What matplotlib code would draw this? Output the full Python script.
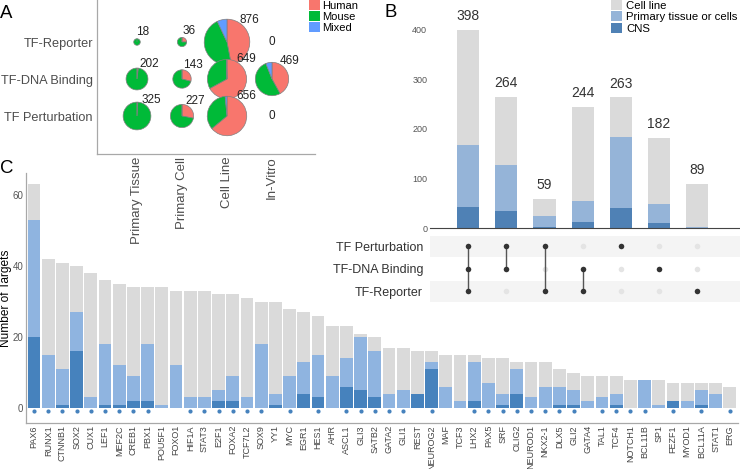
import numpy as np
import matplotlib
matplotlib.use("Agg")
import matplotlib.pyplot as plt
from matplotlib.patches import Patch

plt.rcParams['font.family'] = ['Liberation Sans', 'DejaVu Sans']

# ---------------- Panel A data ----------------
assay_types = ['TF-Reporter', 'TF-DNA Binding', 'TF Perturbation']
sample_sources = ['Primary Tissue', 'Primary Cell', 'Cell Line', 'In-Vitro']
species = ['Human', 'Mouse', 'Mixed']
species_colors = ['#f8766d', '#00ba38', '#619cff']
pie_counts = [[18, 36, 876, 0],
              [202, 143, 649, 469],
              [325, 227, 656, 0]]
human_share = [[0.0, 0.25, 0.47, 0.0],
               [0.02, 0.29, 0.67, 0.42],
               [0.01, 0.28, 0.64, 0.0]]
mixed_share = [[0.0, 0.0, 0.07, 0.0],
               [0.0, 0.0, 0.005, 0.06],
               [0.0, 0.0, 0.015, 0.0]]

# ---------------- Panel B data ----------------
upset_totals = [398, 264, 59, 244, 263, 182, 89]
upset_primary = [168, 127, 24, 55, 184, 48, 2]   # primary tissue/cells (incl. CNS), cumulative
upset_cns = [43, 35, 3, 13, 40, 11, 1]
set_names = ['TF Perturbation', 'TF-DNA Binding', 'TF-Reporter']
memberships = [[1, 1, 1], [1, 1, 0], [1, 0, 1], [0, 1, 1], [1, 0, 0], [0, 1, 0], [0, 0, 1]]
b_legend = ['Cell line', 'Primary tissue or cells', 'CNS']

# ---------------- Panel C data ----------------
tf_names = ['PAX6', 'RUNX1', 'CTNNB1', 'SOX2', 'CUX1', 'LEF1', 'MEF2C', 'CREB1', 'PBX1', 'POU5F1',
            'FOXO1', 'HIF1A', 'STAT3', 'E2F1', 'FOXA2', 'TCF7L2', 'SOX9', 'YY1', 'MYC', 'EGR1',
            'HES1', 'AHR', 'ASCL1', 'GLI3', 'SATB2', 'GATA2', 'GLI1', 'REST', 'NEUROG2', 'MAF',
            'TCF3', 'LHX2', 'PAX5', 'SRF', 'OLIG2', 'NEUROD1', 'NKX2-1', 'DLX5', 'GLI2', 'GATA4',
            'TAL1', 'TCF4', 'NOTCH1', 'BCL11B', 'SP1', 'FEZF1', 'MYOD1', 'BCL11A', 'STAT1', 'ERG']
tf_total = [63, 42, 41, 40, 38, 36, 35, 34, 34, 34,
            33, 33, 33, 32, 32, 31, 30, 30, 28, 27,
            26, 23, 23, 21, 20, 17, 17, 16, 16, 15,
            15, 15, 14, 14, 13, 13, 13, 11, 10, 9,
            9, 9, 8, 8, 8, 7, 7, 7, 7, 6]
tf_primary = [53, 15, 11, 27, 3, 18, 12, 9, 18, 1,
              12, 3, 3, 5, 9, 3, 18, 4, 9, 13,
              15, 9, 14, 20, 16, 4, 5, 4, 13, 6,
              2, 13, 7, 4, 11, 3, 6, 6, 5, 2,
              3, 4, 0, 8, 1, 2, 2, 5, 4, 0]
tf_cns = [20, 0, 1, 16, 0, 1, 1, 2, 2, 0,
          0, 0, 0, 2, 2, 0, 0, 1, 0, 4,
          3, 0, 6, 5, 3, 0, 0, 4, 11, 0,
          0, 2, 0, 1, 4, 0, 0, 1, 1, 0,
          0, 1, 0, 0, 0, 2, 0, 1, 0, 0]
tf_dot = [1, 1, 1, 1, 1, 1, 1, 1, 1, 0,
          0, 1, 1, 1, 1, 1, 1, 0, 1, 0,
          1, 0, 1, 1, 1, 1, 1, 0, 1, 0,
          0, 1, 1, 1, 1, 1, 1, 1, 1, 0,
          1, 1, 1, 1, 0, 1, 0, 1, 0, 1]

# colours
GRAY = '#dadada'
B_LIGHT, B_DARK = '#95b4d8', '#4f81b5'
C_LIGHT, C_DARK = '#8fb4e0', '#4682bd'
TXT = '#4d4d4d'

W, H = 740, 469
fig = plt.figure(figsize=(W / 100, H / 100), dpi=100)


def rect(l, t, r, b):
    return [l / W, 1 - b / H, (r - l) / W, (b - t) / H]


# ================= Panel C =================
axC = fig.add_axes(rect(26, 172.7, 738, 423))
axC.set_facecolor('none')
xc = np.arange(len(tf_names))
axC.bar(xc, tf_total, width=0.9, color=GRAY, linewidth=0)
axC.bar(xc, tf_primary, width=0.9, color=C_LIGHT, linewidth=0)
axC.bar(xc, tf_cns, width=0.9, color=C_DARK, linewidth=0)
dot_x = xc[np.array(tf_dot) == 1]
axC.scatter(dot_x, np.full(len(dot_x), -0.9), s=9, color=C_DARK, linewidths=0, zorder=3)
axC.set_xlim(-0.57, len(tf_names) - 0.42)
axC.set_ylim(-4.2, 66.3)
axC.set_yticks([0, 20, 40, 60])
axC.set_xticks(xc)
axC.set_xticklabels(tf_names, rotation=90, fontsize=6.5, color='#444444')
axC.tick_params(axis='both', length=0)
axC.tick_params(axis='x', pad=1.5)
axC.tick_params(axis='y', labelsize=7, labelcolor='#555555', pad=2)
for s in ['top', 'right']:
    axC.spines[s].set_visible(False)
for s in ['left', 'bottom']:
    axC.spines[s].set_color('#a8a8a8')
    axC.spines[s].set_linewidth(0.9)
axC.set_ylabel('Number of Targets', fontsize=8.6, color='black')
axC.yaxis.set_label_coords(-0.019, 0.5)

# ================= Panel A =================
axA = fig.add_axes(rect(97, 0, 315, 154))
axA.set_facecolor('none')
unit = 45.0
row_gap = 37.0 / unit
row_y = [-i * row_gap for i in range(len(assay_types))]
for i in range(len(assay_types)):
    for j in range(len(sample_sources)):
        n = pie_counts[i][j]
        y = row_y[i]
        if n == 0:
            axA.text(j, y, '0', ha='center', va='center', fontsize=8.5, color='#222222')
            continue
        r = 0.77 * np.sqrt(n) / unit
        h = human_share[i][j]
        m = mixed_share[i][j]
        fr = [h, 1 - h - m, m]
        axA.pie(fr, colors=species_colors, center=(j, y), radius=r, startangle=90,
                counterclock=False, frame=True,
                wedgeprops=dict(edgecolor='#808080', linewidth=0.5))
        axA.text(j + (0.85 * r * unit + 3) / unit, y + (0.6 * r * unit + 8) / unit, str(n),
                 ha='center', va='center', fontsize=8.5, color='#222222')
axA.set_aspect('equal')
axA.set_xlim(-40 / unit, 178 / unit)
axA.set_ylim(-112 / unit, 42 / unit)
axA.set_xticks(range(len(sample_sources)))
axA.set_xticklabels(sample_sources, rotation=90, fontsize=9.5, color=TXT)
axA.set_yticks(row_y)
axA.set_yticklabels(assay_types, fontsize=9.2, color=TXT)
axA.tick_params(axis='both', length=0)
axA.tick_params(axis='x', pad=2)
axA.tick_params(axis='y', pad=3)
for s in ['top', 'right']:
    axA.spines[s].set_visible(False)
for s in ['left', 'bottom']:
    axA.spines[s].set_visible(True)
    axA.spines[s].set_color('#a8a8a8')
    axA.spines[s].set_linewidth(0.9)
axA.set_frame_on(True)
axA.patch.set_visible(False)

fig.legend(handles=[Patch(facecolor=c, label=s) for c, s in zip(species_colors, species)],
           loc='upper left', bbox_to_anchor=(309 / W, 1.0), frameon=False, fontsize=8,
           handlelength=0.95, handleheight=0.95, handletextpad=0.25, labelspacing=0.05,
           borderpad=0, borderaxespad=0)

# ================= Panel B =================
axB = fig.add_axes(rect(430, 0, 740, 228.3))
xb = np.arange(len(upset_totals))
axB.bar(xb, upset_totals, width=0.58, color=GRAY, linewidth=0)
axB.bar(xb, upset_primary, width=0.58, color=B_LIGHT, linewidth=0)
axB.bar(xb, upset_cns, width=0.58, color=B_DARK, linewidth=0)
for xi, t in zip(xb, upset_totals):
    axB.annotate(str(t), (xi, t), xytext=(0, 5), textcoords='offset points',
                 ha='center', va='bottom', fontsize=10, color='#333333')
axB.set_xlim(-1.0, 7.12)
axB.set_ylim(0, 459)
axB.set_xticks([])
axB.set_yticks([0, 100, 200, 300, 400])
axB.tick_params(axis='y', length=0, labelsize=6.5, labelcolor='#555555', pad=2)
for s in ['top', 'right', 'left']:
    axB.spines[s].set_visible(False)
axB.spines['bottom'].set_color('#444444')
axB.spines['bottom'].set_linewidth(0.8)

fig.legend(handles=[Patch(facecolor=c, label=s) for c, s in zip([GRAY, B_LIGHT, B_DARK], b_legend)],
           loc='upper left', bbox_to_anchor=(611 / W, 1.0), frameon=False, fontsize=8.2,
           handlelength=0.95, handleheight=0.95, handletextpad=0.4, labelspacing=0.05,
           borderpad=0, borderaxespad=0)

# matrix
axM = fig.add_axes(rect(430, 235.2, 740, 302.7))
axM.set_xlim(-1.0, 7.12)
axM.set_ylim(len(set_names) - 0.5, -0.5)
for r in range(0, len(set_names), 2):
    axM.axhspan(r - 0.45, r + 0.45, color='#f4f4f4', zorder=0, linewidth=0)
for k, mem in enumerate(memberships):
    act = [r for r in range(len(set_names)) if mem[r]]
    ina = [r for r in range(len(set_names)) if not mem[r]]
    axM.scatter([k] * len(ina), ina, s=16, color='#e4e4e4', linewidths=0, zorder=2)
    if len(act) > 1:
        axM.plot([k, k], [min(act), max(act)], color='#555555', linewidth=1.0, zorder=2)
    axM.scatter([k] * len(act), act, s=16, color='#333333', linewidths=0, zorder=3)
axM.set_xticks([])
axM.set_yticks(range(len(set_names)))
axM.set_yticklabels(set_names, fontsize=9, color='#333333')
axM.tick_params(axis='y', length=0, pad=5)
for s in axM.spines.values():
    s.set_visible(False)

# panel letters
fig.text(0 / W, 1 - 18.3 / H, 'A', fontsize=13.4, va='baseline', ha='left')
fig.text(385 / W, 1 - 16.7 / H, 'B', fontsize=13.4, va='baseline', ha='left')
fig.text(0 / W, 1 - 173.3 / H, 'C', fontsize=13.4, va='baseline', ha='left')

fig.savefig('out.png', dpi=100)
